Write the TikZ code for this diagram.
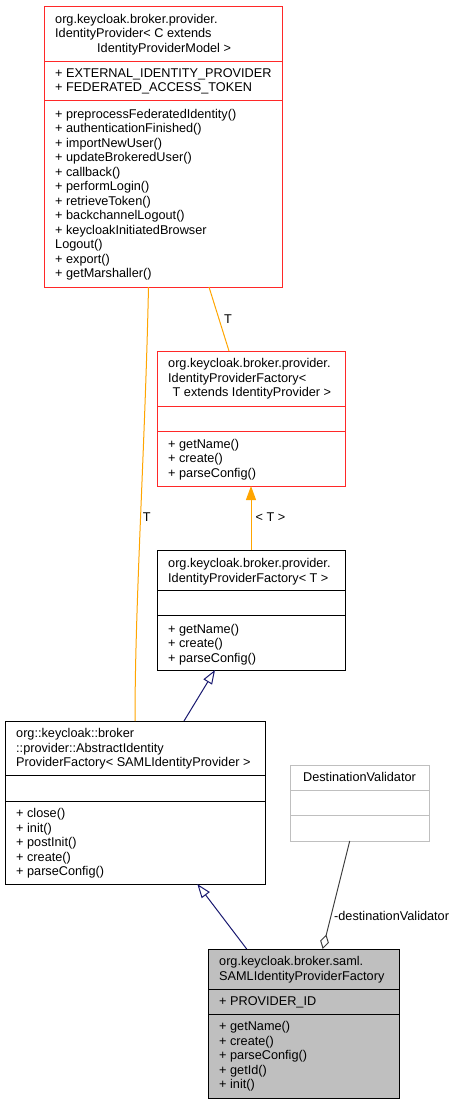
\documentclass[tikz,border=0pt]{standalone}
\usepackage{fontspec}
\setmainfont{Liberation Sans}
\usetikzlibrary{arrows.meta,calc}
\definecolor{docred}{RGB}{255,40,40}
\definecolor{docorange}{RGB}{255,165,0}
\definecolor{docblue}{RGB}{25,25,112}
\definecolor{docgrey}{RGB}{191,191,191}
\definecolor{docdark}{RGB}{64,64,64}
\newcommand\mystrut{\rule{0pt}{10pt}}
\begin{document}
\begin{tikzpicture}[x=1pt,y=-1pt,
  font=\fontsize{12.7}{14.5}\selectfont,
  box/.style={draw, line width=1pt, anchor=north west, inner sep=0pt, outer sep=0pt},
  comp/.style={anchor=north west, inner sep=0pt, align=left},
  lbl/.style={anchor=base, inner sep=0pt},
  tmpl/.style={docorange, line width=1pt},
  inh/.style={docblue, line width=1pt, -{Triangle[open, length=14pt, width=10pt, fill=white]}},
  agg/.style={docdark, line width=1pt, -{Diamond[open, length=15pt, width=9pt, fill=white]}}
]
\useasboundingbox (0,0) rectangle (459,1104);

% Box 1: IdentityProvider
\node[box, draw=docred, minimum width=238pt, minimum height=281pt] (b1) at (44,6) {};
\draw[docred, line width=1pt] ($(b1.north west)+(0,55)$) -- ($(b1.north east)+(0,55)$);
\draw[docred, line width=1pt] ($(b1.north west)+(0,94)$) -- ($(b1.north east)+(0,94)$);
\node[comp] (b1t) at (55,13) {\mystrut org.keycloak.broker.provider.\\IdentityProvider< C extends\\\hspace*{42pt}IdentityProviderModel >};
\node[comp] (b1a) at (55,67) {\mystrut + EXTERNAL\_IDENTITY\_PROVIDER\\+ FEDERATED\_ACCESS\_TOKEN};
\node[comp] (b1m) at (55,108) {\mystrut + preprocessFederatedIdentity()\\+ authenticationFinished()\\+ importNewUser()\\+ updateBrokeredUser()\\+ callback()\\+ performLogin()\\+ retrieveToken()\\+ backchannelLogout()\\+ keycloakInitiatedBrowser\\Logout()\\+ export()\\+ getMarshaller()};

% Box 2: IdentityProviderFactory< T extends IdentityProvider >
\node[box, draw=docred, minimum width=188pt, minimum height=135pt] (b2) at (157,351) {};
\draw[docred, line width=1pt] ($(b2.north west)+(0,55)$) -- ($(b2.north east)+(0,55)$);
\draw[docred, line width=1pt] ($(b2.north west)+(0,80)$) -- ($(b2.north east)+(0,80)$);
\node[comp] (b2t) at (168,357.7) {\mystrut org.keycloak.broker.provider.\\IdentityProviderFactory<\\\hspace*{4.5pt}T extends IdentityProvider >};
\node[comp] (b2m) at (168,438) {\mystrut + getName()\\+ create()\\+ parseConfig()};

% Box 3: IdentityProviderFactory< T >
\node[box, draw=black, minimum width=188pt, minimum height=120pt] (b3) at (157,550) {};
\draw[black, line width=1pt] ($(b3.north west)+(0,40)$) -- ($(b3.north east)+(0,40)$);
\draw[black, line width=1pt] ($(b3.north west)+(0,65)$) -- ($(b3.north east)+(0,65)$);
\node[comp] (b3t) at (168,557.7) {\mystrut org.keycloak.broker.provider.\\IdentityProviderFactory< T >};
\node[comp] (b3m) at (168,623) {\mystrut + getName()\\+ create()\\+ parseConfig()};

% Box 4: AbstractIdentityProviderFactory
\node[box, draw=black, minimum width=260pt, minimum height=163pt] (b4) at (5,721) {};
\draw[black, line width=1pt] ($(b4.north west)+(0,54)$) -- ($(b4.north east)+(0,54)$);
\draw[black, line width=1pt] ($(b4.north west)+(0,80)$) -- ($(b4.north east)+(0,80)$);
\node[comp] (b4t) at (16,727.7) {\mystrut org::keycloak::broker\\::provider::AbstractIdentity\\ProviderFactory< SAMLIdentityProvider >};
\node[comp] (b4m) at (16,807.7) {\mystrut + close()\\+ init()\\+ postInit()\\+ create()\\+ parseConfig()};

% Box 5: SAMLIdentityProviderFactory
\node[box, draw=black, fill=docgrey, minimum width=191pt, minimum height=149pt] (b5) at (208,949) {};
\draw[black, line width=1pt] ($(b5.north west)+(0,40)$) -- ($(b5.north east)+(0,40)$);
\draw[black, line width=1pt] ($(b5.north west)+(0,65)$) -- ($(b5.north east)+(0,65)$);
\node[comp] (b5t) at (219,955.7) {\mystrut org.keycloak.broker.saml.\\SAMLIdentityProviderFactory};
\node[comp] (b5a) at (219,995.7) {\mystrut + PROVIDER\_ID};
\node[comp] (b5m) at (219,1020.3) {\mystrut + getName()\\+ create()\\+ parseConfig()\\+ getId()\\+ init()};

% Box 6: DestinationValidator
\node[box, draw=docgrey, minimum width=139pt, minimum height=76pt] (b6) at (290,765) {};
\draw[docgrey, line width=1pt] ($(b6.north west)+(0,25)$) -- ($(b6.north east)+(0,25)$);
\draw[docgrey, line width=1pt] ($(b6.north west)+(0,50)$) -- ($(b6.north east)+(0,50)$);
\node[lbl] (b6t) at (359.5,781.7) {DestinationValidator};

% Connectors
\coordinate (e1s) at ($(b1.south west)+(165,0)$);
\coordinate (e1e) at ($(b2.north west)+(72,0)$);
\draw[tmpl] (e1s) -- (e1e);
\node[lbl] (l1) at (228,323) {T};

\coordinate (e2s) at ($(b1.south west)+(104.5,0)$);
\coordinate (e2e) at ($(b4.north west)+(130,0)$);
\draw[tmpl] (e2s) .. controls ($(e2s)+(-3.5,163)$) and ($(e2e)+(0,-120)$) .. (e2e);
\node[lbl] (l2) at (146.7,521) {T};

\coordinate (e3s) at ($(b3.north west)+(94,0)$);
\coordinate (e3e) at ($(b2.south west)+(94,0)$);
\draw[tmpl, -{Triangle[length=14pt, width=10pt]}] (e3s) -- (e3e);
\node[lbl] (l3) at (270.5,521) {< T >};

\coordinate (e4s) at ($(b4.north west)+(179,0)$);
\coordinate (e4e) at ($(b3.south west)+(58,0)$);
\draw[inh] (e4s) -- (e4e);

\coordinate (e5s) at ($(b5.north west)+(38.7,0)$);
\coordinate (e5e) at ($(b4.south west)+(192.3,0)$);
\draw[inh] (e5s) -- (e5e);

\coordinate (e6s) at ($(b6.south west)+(59.7,0)$);
\coordinate (e6e) at ($(b5.north west)+(114.7,0)$);
\draw[agg] (e6s) -- (e6e);
\node[lbl, anchor=base west] (l6) at (334,920.7) {-destinationValidator};
\end{tikzpicture}
\end{document}
